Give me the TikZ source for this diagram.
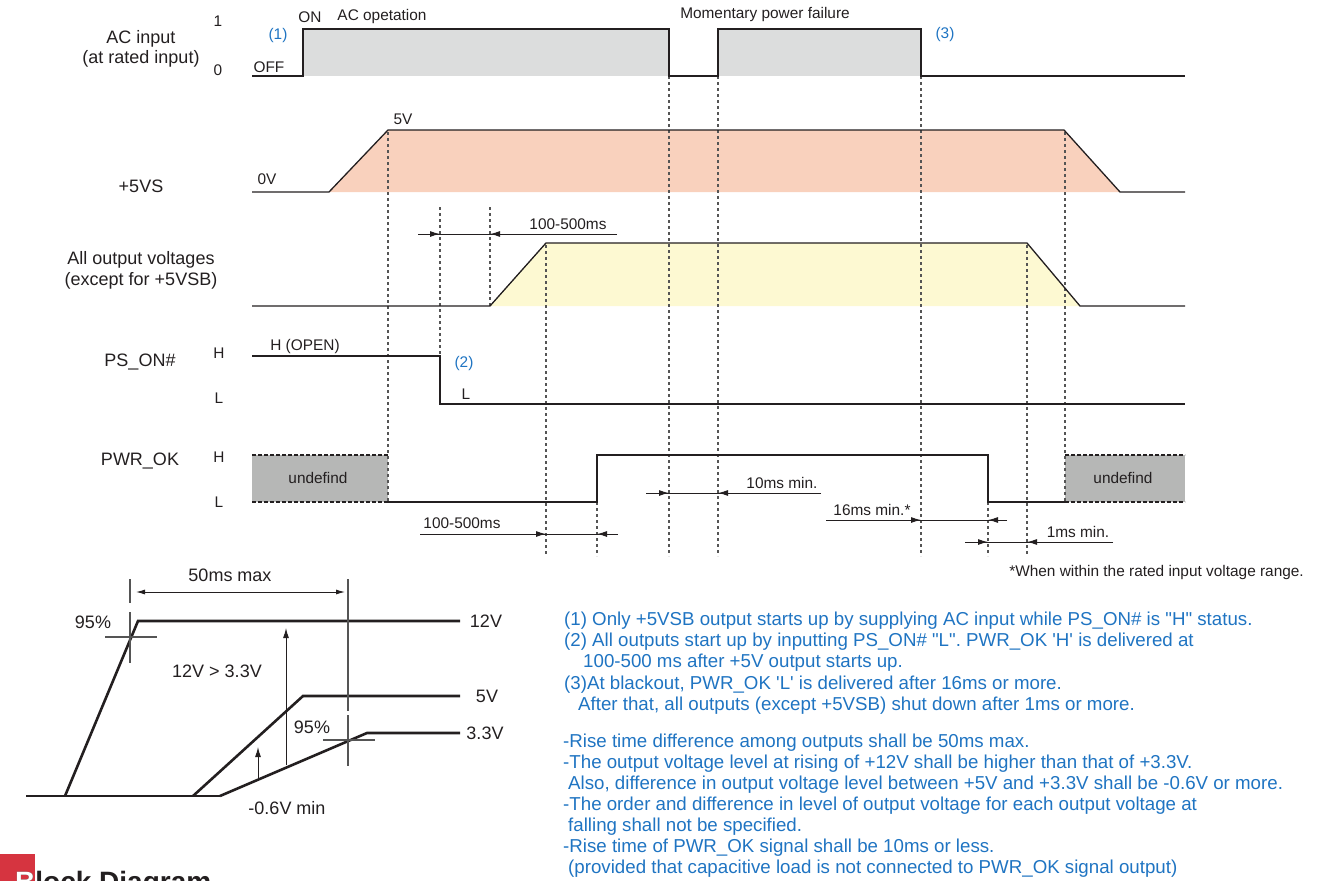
\documentclass[tikz,border=0pt]{standalone}
\usepackage{fontspec}
\setmainfont{Liberation Sans}
\usetikzlibrary{arrows.meta}
\definecolor{acgray}{HTML}{DCDDDD}
\definecolor{vsfill}{HTML}{F9D1BD}
\definecolor{outfill}{HTML}{FDF9D2}
\definecolor{undefgray}{HTML}{B6B7B6}
\definecolor{txt}{HTML}{231F20}
\definecolor{note}{HTML}{1F74C2}
\definecolor{guidec}{HTML}{555555}
\definecolor{tabred}{HTML}{D63440}
\tikzset{
  sig/.style={draw=txt, line width=1.3pt},
  guide/.style={draw=guidec, line width=1.3pt, dash pattern=on 3pt off 3pt},
  edge/.style={draw=txt, line width=1.1pt, dash pattern=on 3.5pt off 2.5pt},
  dim/.style={draw=txt, line width=1pt},
  tipr/.style={draw=txt, line width=1pt, -{Latex[length=10pt,width=6pt]}},
  wave/.style={draw=txt, line width=2.6pt},
  vline/.style={draw=guidec, line width=1.5pt},
  lab/.style={text=txt, font=\fontsize{15.4}{18}\selectfont, inner sep=0},
  biglab/.style={text=txt, font=\fontsize{18}{21}\selectfont, inner sep=0},
  notes/.style={text=note, font=\fontsize{18.7}{21}\selectfont, inner sep=0, anchor=base west},
}
\begin{document}
\begin{tikzpicture}[x=1pt,y=-1pt]
\useasboundingbox (0,0) rectangle (1334,881);
% ---------- fills
\fill[acgray] (303,29) rectangle (669,76);
\fill[acgray] (718,29) rectangle (921,76);
\fill[vsfill] (329,192) -- (388,130) -- (1064,130) -- (1120,192) -- cycle;
\fill[outfill] (490,306) -- (546,243) -- (1027,243) -- (1080,306) -- cycle;
\fill[undefgray] (252,455) rectangle (388,502);
\fill[undefgray] (1065,455) rectangle (1185,502);
% ---------- guides
\draw[guide] (388,132) -- (388,502);
\draw[guide] (440,207) -- (440,356);
\draw[guide] (490,207) -- (490,306);
\draw[guide] (546,245) -- (546,556);
\draw[guide] (597,502) -- (597,556);
\draw[guide] (669,76) -- (669,556);
\draw[guide] (718,76) -- (718,556);
\draw[guide] (921,76) -- (921,556);
\draw[guide] (988,502) -- (988,556);
\draw[guide] (1027,245) -- (1027,556);
\draw[guide] (1065,132) -- (1065,502);
% ---------- waveforms
\draw[sig] (252,76) -- (303,76) -- (303,29) -- (669,29) -- (669,76) -- (718,76) -- (718,29) -- (921,29) -- (921,76) -- (1185,76);
\draw[sig] (252,192) -- (329,192) -- (388,130) -- (1064,130) -- (1120,192) -- (1185,192);
\draw[sig] (252,306) -- (490,306) -- (546,243) -- (1027,243) -- (1080,306) -- (1185,306);
\draw[sig] (252,356) -- (440,356) -- (440,404) -- (1185,404);
\draw[sig] (388,502) -- (597,502) -- (597,455) -- (988,455) -- (988,502) -- (1065,502);
\draw[edge] (252,455) -- (388,455);
\draw[edge] (252,502) -- (388,502);
\draw[edge] (1065,455) -- (1185,455);
\draw[edge] (1065,502) -- (1185,502);
% ---------- dimension arrows
\coordinate (a1) at (418,234); \coordinate (b1) at (617,234);
\draw[dim] (a1) -- (b1);
\draw[tipr] (a1) -- (440,234);
\draw[tipr] (b1) -- (490,234);
\coordinate (a2) at (420,534); \coordinate (b2) at (618,534);
\draw[dim] (a2) -- (b2);
\draw[tipr] (a2) -- (546,534);
\draw[tipr] (b2) -- (597,534);
\coordinate (a3) at (646,493); \coordinate (b3) at (821,493);
\draw[dim] (a3) -- (b3);
\draw[tipr] (a3) -- (669,493);
\draw[tipr] (b3) -- (718,493);
\coordinate (a4) at (826,520); \coordinate (b4) at (1007,520);
\draw[dim] (a4) -- (b4);
\draw[tipr] (a4) -- (921,520);
\draw[tipr] (b4) -- (988,520);
\coordinate (a5) at (965,542); \coordinate (b5) at (1113,542);
\draw[dim] (a5) -- (b5);
\draw[tipr] (a5) -- (988,542);
\draw[tipr] (b5) -- (1027,542);
% ---------- timing labels
\node[biglab] (acin) at (141,39) {AC input};
\node[biglab] (acin2) at (141,59) {(at rated input)};
\node[biglab] (vs) at (141,186) {+5VS};
\node[biglab] (allout) at (141,260) {All output voltages};
\node[biglab] (allout2) at (141,281) {(except for +5VSB)};
\node[biglab] (pson) at (140,362) {PS\_ON\#};
\node[biglab] (pwrok) at (140,461) {PWR\_OK};
\node[lab] (one) at (218,21) {1};
\node[lab] (zero) at (218,70) {0};
\node[lab] (h1) at (219,353) {H};
\node[lab] (l1) at (219,398) {L};
\node[lab] (h2) at (219,457) {H};
\node[lab] (l2) at (219,502) {L};
\node[lab, text=note] (n1) at (278,36) {(1)};
\node[lab] (off) at (269,67) {OFF};
\node[lab] (on) at (310,17) {ON};
\node[lab] (acop) at (382,17) {AC opetation};
\node[lab] (mpf) at (765,15) {Momentary power failure};
\node[lab, text=note] (n3) at (945,35) {(3)};
\node[lab] (fivev) at (403,119) {5V};
\node[lab] (zerov) at (267,179) {0V};
\node[lab] (d1) at (568,224) {100-500ms};
\node[lab] (hopen) at (305,347) {H (OPEN)};
\node[lab, text=note] (n2) at (464,364) {(2)};
\node[lab] (lpson) at (466,394) {L};
\node[lab] (und1) at (318,478) {undefind};
\node[lab] (und2) at (1123,478) {undefind};
\node[lab] (d2) at (462,523) {100-500ms};
\node[lab] (d3) at (782,483) {10ms min.};
\node[lab] (d4) at (872,510) {16ms min.*};
\node[lab] (d5) at (1078,532) {1ms min.};
\node[lab, anchor=east] (star) at (1304,573) {*When within the rated input voltage range.};
% ---------- rise chart
\draw[wave] (26,796) -- (220,796);
\draw[wave] (65,796) -- (138,621) -- (460,621);
\draw[wave] (193,796) -- (303,696) -- (460,696);
\draw[wave] (220,796) -- (367,733) -- (460,733);
\draw[vline] (130,579) -- (130,603);
\draw[vline] (130,612) -- (130,663);
\draw[vline] (105,637) -- (157,637);
\draw[vline] (348,579) -- (348,711);
\draw[vline] (348,715) -- (348,766);
\draw[vline] (323,740) -- (375,740);
\draw[dim, {Latex[length=9pt,width=5pt]}-{Latex[length=9pt,width=5pt]}] (136,592) -- (345,592);
\draw[tipr] (286,765) -- (286,628);
\draw[tipr] (258,778) -- (258,747);
\node[biglab] (ms50) at (230,575) {50ms max};
\node[biglab] (p95a) at (93,622) {95\%};
\node[biglab] (v12) at (486,621) {12V};
\node[biglab] (v5) at (487,696) {5V};
\node[biglab] (v33) at (485,733) {3.3V};
\node[biglab] (p95b) at (312,727) {95\%};
\node[biglab] (cmp) at (217,671) {12V > 3.3V};
\node[biglab] (mn) at (287,808) {-0.6V min};
% ---------- notes
\node[notes] (t1) at (564,625.5) {(1) Only +5VSB output starts up by supplying AC input while PS\_ON\# is \textquotedbl H\textquotedbl\ status.};
\node[notes] (t2) at (564,646.5) {(2) All outputs start up by inputting PS\_ON\# \textquotedbl L\textquotedbl. PWR\_OK \textquotesingle H\textquotesingle\ is delivered at};
\node[notes] (t3) at (583,667.5) {100-500 ms after +5V output starts up.};
\node[notes] (t4) at (564,689) {(3)At blackout, PWR\_OK \textquotesingle L\textquotesingle\ is delivered after 16ms or more.};
\node[notes] (t5) at (578,710) {After that, all outputs (except +5VSB) shut down after 1ms or more.};
\node[notes] (s1) at (563,747.5) {-Rise time difference among outputs shall be 50ms max.};
\node[notes] (s2) at (563,768.5) {-The output voltage level at rising of +12V shall be higher than that of +3.3V.};
\node[notes] (s3) at (568,789.5) {Also, difference in output voltage level between +5V and +3.3V shall be -0.6V or more.};
\node[notes] (s4) at (563,810.5) {-The order and difference in level of output voltage for each output voltage at};
\node[notes] (s5) at (568,831.5) {falling shall not be specified.};
\node[notes] (s6) at (563,852.5) {-Rise time of PWR\_OK signal shall be 10ms or less.};
\node[notes] (s7) at (568,873.5) {(provided that capacitive load is not connected to PWR\_OK signal output)};
% ---------- cut-off heading
\fill[tabred] (0,854) rectangle (35,881);
\node[anchor=base west, inner sep=0, text=txt, font=\fontsize{28}{30}\selectfont\bfseries] (bd) at (15,891) {Block Diagram};
\begin{scope}
\clip (0,854) rectangle (35,881);
\node[anchor=base west, inner sep=0, text=white, font=\fontsize{28}{30}\selectfont\bfseries] (bdw) at (15,891) {Block Diagram};
\end{scope}
\end{tikzpicture}
\end{document}
